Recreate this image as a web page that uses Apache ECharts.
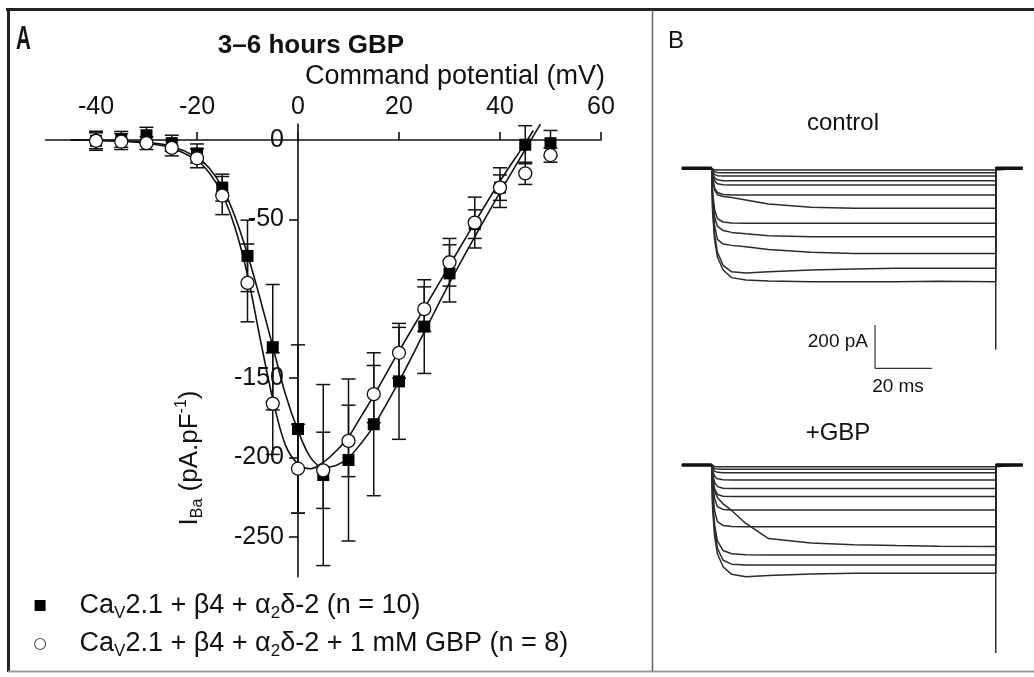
<!DOCTYPE html>
<html>
<head>
<meta charset="utf-8">
<script src="https://cdn.jsdelivr.net/npm/echarts@6/dist/echarts.min.js"></script>
<style>
html,body{margin:0;padding:0;background:#fff;}
#chart{width:1034px;height:677px;}
</style>
</head>
<body>
<div id="chart"></div>
<script>
// ---------- Panel A data (I–V relationship) ----------
const voltages = [-40,-35,-30,-25,-20,-15,-10,-5,0,5,10,15,20,25,30,35,40,45,50];
const ctrlMean = [-0.5,0.4,3,-2,-8.5,-30,-73,-130.5,-182,-211,-201.5,-179,-152,-117.5,-84,-53,-30,-3,-2];
const ctrlSem  = [5,5,5,5,6,8.5,22.5,39.5,53,57,51,45,36.5,29.5,18,9,8,12,8];
const gbpMean  = [-0.5,-1,-2,-5,-11.5,-35,-90,-166,-207,-208,-189.5,-160,-134,-106.5,-77,-52,-30,-21,-9.5];
const gbpSem   = [6,5,4,5,6,12,24.5,32,28,24,22.5,18,16,14,15,16,12.5,7,4.5];

// fitted curves
const ctrlFitV = [-45,-40,-35,-30,-25,-20,-17.5,-15,-12.5,-10,-7.5,-5,-2.5,0,2.5,5,7.5,10,12.5,15,20,25,30,35,40,45,48];
const ctrlFit  = [0,-0.2,-0.6,-1.5,-4,-11,-18,-30,-48,-72,-100,-130,-160,-183,-200,-206,-205,-200,-191,-180,-152,-121,-90,-61,-33,-6,10];
const gbpFitV  = [-45,-40,-35,-30,-25,-20,-17.5,-15,-12.5,-10,-7.5,-5,-2.5,0,2.5,5,7.5,10,12.5,15,20,25,30,35,40,45,46.6];
const gbpFit   = [0,-0.2,-0.7,-2,-5,-13,-21,-34,-55,-85,-125,-163,-192,-204,-207,-203,-196,-187,-174,-161,-133,-106,-79,-52,-26,-2,6];

const xTickValues = [-40,-20,0,20,40,60];
const yLabelValues = [0,-50,-150,-200,-250];
const yTickValues = [-50,-150,-200,-250];

const nameCtrl = 'CaV2.1 + β4 + α2δ-2 (n = 10)';
const nameGbp  = 'CaV2.1 + β4 + α2δ-2 + 1 mM GBP (n = 8)';

// ---------- Panel B data (current traces, ms / pA) ----------
const traceT = [-10.5,0,0.3,1,2,4,7,12,20,35,50,65,80,100,100,109.5];
const ctrlTraces = [
  [0,0,-4,-7,-8,-8,-8,-8,-8,-8,-8,-8,-8,-8,0,0],
  [0,0,-8,-16,-19,-20,-20,-20,-20,-20,-20,-20,-20,-20,0,0],
  [0,0,-14,-28,-34,-36,-36,-36,-36,-36,-36,-36,-36,-36,0,0],
  [0,0,-22,-44,-53,-57,-57,-57,-57,-57,-57,-57,-57,-57,0,0],
  [0,0,-30,-58,-71,-76,-77,-77,-77,-77,-77,-77,-77,-77,0,0],
  [0,0,-45,-90,-112,-121,-123,-123,-123,-123,-123,-123,-123,-123,0,0],
  [0,0,-50,-100,-122,-130,-135,-146,-165,-180,-184,-185,-185,-185,0,0],
  [0,0,-110,-190,-232,-248,-253,-254,-254,-254,-254,-254,-254,-254,0,0],
  [0,0,-130,-225,-268,-287,-296,-302,-311,-316,-316,-316,-316,-316,0,0],
  [0,0,-150,-265,-328,-350,-356,-362,-375,-388,-393,-393,-393,-393,0,0],
  [0,0,-185,-305,-388,-448,-478,-484,-478,-470,-465,-462,-462,-462,0,0],
  [0,0,-200,-330,-410,-470,-505,-516,-520,-524,-524,-524,-522,-524,0,0]
];
const gbpTraces = [
  [0,0,-4,-7,-8,-8,-8,-8,-8,-8,-8,-8,-8,-8,0,0],
  [0,0,-8,-16,-19,-20,-20,-20,-20,-20,-20,-20,-20,-20,0,0],
  [0,0,-14,-28,-34,-36,-36,-36,-36,-36,-36,-36,-36,-36,0,0],
  [0,0,-25,-52,-64,-68,-69,-69,-69,-69,-69,-69,-69,-69,0,0],
  [0,0,-40,-80,-100,-107,-108,-108,-108,-108,-108,-108,-108,-108,0,0],
  [0,0,-55,-110,-136,-144,-146,-146,-146,-146,-146,-146,-146,-146,0,0],
  [0,0,-80,-155,-193,-205,-208,-208,-208,-208,-208,-208,-208,-208,0,0],
  [0,0,-110,-210,-262,-280,-284,-285,-285,-285,-285,-285,-285,-285,0,0],
  [0,0,-60,-120,-150,-180,-210,-270,-340,-360,-368,-372,-375,-377,0,0],
  [0,0,-160,-275,-350,-395,-410,-414,-416,-416,-416,-416,-416,-416,0,0],
  [0,0,-180,-300,-385,-440,-458,-462,-462,-462,-462,-462,-462,-462,0,0],
  [0,0,-200,-330,-410,-470,-505,-516,-510,-504,-500,-500,-500,-500,0,0]
];
const ctrlTailPeak = -838;
const gbpTailPeak = -868;
const baseT = [-10.5,0,null,100,109.5];
const scaleBarT = [57.5,57.5,77.5];
const scaleBarI = [-724,-924,-924];

// ---------- option ----------
const FONT = '"Liberation Sans", Arial, sans-serif';
const ink = '#111';

function errSeries(name, means, sems, z) {
  return {
    name: name + ' err', type: 'custom', xAxisIndex: 0, yAxisIndex: 0, z: z, silent: true,
    data: voltages.map((v, i) => [v, means[i], sems[i]]),
    encode: {x: 0, y: 1},
    renderItem: function (params, api) {
      const x = api.value(0), m = api.value(1), s = api.value(2);
      const pt = api.coord([x, m + s]);
      const pb = api.coord([x, m - s]);
      const hw = 7;
      const st = {stroke: ink, lineWidth: 1.5};
      return {type: 'group', children: [
        {type: 'line', shape: {x1: pt[0], y1: pt[1], x2: pb[0], y2: pb[1]}, style: st},
        {type: 'line', shape: {x1: pt[0] - hw, y1: pt[1], x2: pt[0] + hw, y2: pt[1]}, style: st},
        {type: 'line', shape: {x1: pb[0] - hw, y1: pb[1], x2: pb[0] + hw, y2: pb[1]}, style: st}
      ]};
    }
  };
}

function traceSeries(arr, axisIdx) {
  return arr.map(tr => ({
    type: 'line', xAxisIndex: axisIdx, yAxisIndex: axisIdx, silent: true,
    showSymbol: false, symbol: 'none',
    data: traceT.map((t, j) => [t, tr[j]]),
    lineStyle: {color: '#2b2b2b', width: 1.5}, z: 2
  }));
}

const series = [
  {type: 'line', name: 'ctrl fit', xAxisIndex: 0, yAxisIndex: 0, smooth: 0.35, showSymbol: false, symbol: 'none', silent: true,
   data: ctrlFitV.map((v, i) => [v, ctrlFit[i]]), lineStyle: {color: ink, width: 1.6}, z: 2},
  {type: 'line', name: 'gbp fit', xAxisIndex: 0, yAxisIndex: 0, smooth: 0.35, showSymbol: false, symbol: 'none', silent: true,
   data: gbpFitV.map((v, i) => [v, gbpFit[i]]), lineStyle: {color: ink, width: 1.6}, z: 2},
  errSeries('ctrl', ctrlMean, ctrlSem, 3),
  errSeries('gbp', gbpMean, gbpSem, 3),
  {type: 'scatter', name: nameCtrl, xAxisIndex: 0, yAxisIndex: 0, symbol: 'rect', symbolSize: 12,
   data: voltages.map((v, i) => [v, ctrlMean[i]]), itemStyle: {color: '#000', opacity: 1}, z: 4},
  {type: 'scatter', name: nameGbp, xAxisIndex: 0, yAxisIndex: 0, symbol: 'circle', symbolSize: 13,
   data: voltages.map((v, i) => [v, gbpMean[i]]), itemStyle: {color: '#fff', borderColor: ink, borderWidth: 1.3, opacity: 1}, z: 5}
].concat(traceSeries(ctrlTraces, 1), traceSeries(gbpTraces, 2), [
  {type: 'line', xAxisIndex: 1, yAxisIndex: 1, silent: true, showSymbol: false, symbol: 'none', connectNulls: false,
   data: baseT.map(t => t === null ? [null, null] : [t, 0]), lineStyle: {color: '#111', width: 3.5}, z: 3},
  {type: 'line', xAxisIndex: 2, yAxisIndex: 2, silent: true, showSymbol: false, symbol: 'none', connectNulls: false,
   data: baseT.map(t => t === null ? [null, null] : [t, 0]), lineStyle: {color: '#111', width: 3.5}, z: 3},
  {type: 'line', xAxisIndex: 1, yAxisIndex: 1, silent: true, showSymbol: false, symbol: 'none',
   data: [[100, 0], [100, ctrlTailPeak]], lineStyle: {color: '#222', width: 1.4}, z: 3},
  {type: 'line', xAxisIndex: 2, yAxisIndex: 2, silent: true, showSymbol: false, symbol: 'none',
   data: [[100, 0], [100, gbpTailPeak]], lineStyle: {color: '#222', width: 1.4}, z: 3},
  {type: 'line', xAxisIndex: 1, yAxisIndex: 1, silent: true, showSymbol: false, symbol: 'none',
   data: scaleBarT.map((t, i) => [t, scaleBarI[i]]), lineStyle: {color: '#333', width: 1.2}, z: 3}
]);

const legendRich = {
  gap: {width: 29, fontSize: 27, lineHeight: 32},
  m: {fontSize: 27, fontFamily: FONT, color: ink, lineHeight: 32},
  s: {fontSize: 17, fontFamily: FONT, color: ink, lineHeight: 17, verticalAlign: 'bottom'}
};

const gridL = 45.5, gridT = 124.1, gridW = 555.5, gridH = 452.6;
const option = {
  backgroundColor: '#fff',
  animation: false,
  grid: [
    {left: gridL, top: gridT, width: gridW, height: gridH, containLabel: false, outerBoundsMode: 'none'},
    {left: 680.5, top: 146.65, width: 343.64, height: 238.15, containLabel: false, outerBoundsMode: 'none'},
    {left: 680.5, top: 443.35, width: 343.64, height: 238.15, containLabel: false, outerBoundsMode: 'none'}
  ],
  xAxis: [
    {type: 'value', gridIndex: 0, min: -50, max: 60, position: 'top', offset: -(140 - gridT),
     axisLine: {onZero: false, lineStyle: {color: ink, width: 1.6}},
     axisTick: {customValues: xTickValues, length: 8, lineStyle: {color: ink, width: 1.6}},
     axisLabel: {customValues: xTickValues, margin: 20, fontSize: 25, color: ink, fontFamily: FONT},
     splitLine: {show: false}},
    {type: 'value', gridIndex: 1, min: -11, max: 110, show: false},
    {type: 'value', gridIndex: 2, min: -11, max: 110, show: false}
  ],
  yAxis: [
    {type: 'value', gridIndex: 0, min: -275, max: 10, position: 'left', offset: -(298 - gridL),
     axisLine: {onZero: false, lineStyle: {color: ink, width: 1.6}},
     axisTick: {customValues: yTickValues, length: 9, lineStyle: {color: ink, width: 1.6}},
     axisLabel: {customValues: yLabelValues, margin: 14, fontSize: 25, color: ink, fontFamily: FONT},
     splitLine: {show: false}},
    {type: 'value', gridIndex: 1, min: -1000, max: 100, show: false},
    {type: 'value', gridIndex: 2, min: -1000, max: 100, show: false}
  ],
  legend: {
    orient: 'vertical', left: 34, top: 592, itemGap: 9, itemWidth: 11, itemHeight: 11, padding: 0,
    selectedMode: false,
    data: [
      {name: nameCtrl, icon: 'rect', itemStyle: {color: '#000', borderWidth: 0, opacity: 1}},
      {name: nameGbp, icon: 'circle', itemStyle: {color: '#fff', borderColor: '#555', borderWidth: 1.2, opacity: 1}}
    ],
    formatter: function (name) {
      if (name === nameCtrl) return '{gap| }{m|Ca}{s|V}{m|2.1 + β4 + α}{s|2}{m|δ-2 (n = 10)}';
      return '{gap| }{m|Ca}{s|V}{m|2.1 + β4 + α}{s|2}{m|δ-2 + 1 mM GBP (n = 8)}';
    },
    textStyle: {rich: legendRich, fontSize: 27, fontFamily: FONT, color: ink}
  },
  graphic: [
    {type: 'line', shape: {x1: 6, y1: 9.5, x2: 1034, y2: 9.5}, style: {stroke: '#222', lineWidth: 3}},
    {type: 'line', shape: {x1: 8.5, y1: 8, x2: 8.5, y2: 672}, style: {stroke: '#222', lineWidth: 3}},
    {type: 'line', shape: {x1: 8, y1: 671.5, x2: 1034, y2: 671.5}, style: {stroke: '#999', lineWidth: 2}},
    {type: 'line', shape: {x1: 652.5, y1: 10, x2: 652.5, y2: 671}, style: {stroke: '#666', lineWidth: 1.5}},
    {type: 'text', x: 16, y: 40, scaleX: 0.62, style: {text: 'A', font: 'bold 33px ' + FONT, fill: ink, align: 'left', verticalAlign: 'middle'}},
    {type: 'text', x: 311, y: 46, style: {text: '3–6 hours GBP', font: 'bold 26px ' + FONT, fill: ink, align: 'center', verticalAlign: 'middle'}},
    {type: 'text', x: 605, y: 77, style: {text: 'Command potential (mV)', font: '27px ' + FONT, fill: ink, align: 'right', verticalAlign: 'middle'}},
    {type: 'text', x: 190, y: 458, rotation: Math.PI / 2,
     style: {text: '{m|I}{s|Ba}{m| (pA.pF}{p|-1}{m|)}', align: 'center', verticalAlign: 'middle',
       rich: {
         m: {fontSize: 26, fontFamily: FONT, fill: ink, color: ink, lineHeight: 32},
         s: {fontSize: 16, fontFamily: FONT, fill: ink, color: ink, lineHeight: 16, verticalAlign: 'bottom'},
         p: {fontSize: 16, fontFamily: FONT, fill: ink, color: ink, lineHeight: 16, verticalAlign: 'top'}
       }}},
    {type: 'text', x: 668, y: 41, style: {text: 'B', font: '24px ' + FONT, fill: ink, align: 'left', verticalAlign: 'middle'}},
    {type: 'text', x: 843, y: 123, style: {text: 'control', font: '24px ' + FONT, fill: ink, align: 'center', verticalAlign: 'middle'}},
    {type: 'text', x: 838, y: 433, style: {text: '+GBP', font: '24px ' + FONT, fill: ink, align: 'center', verticalAlign: 'middle'}},
    {type: 'text', x: 868, y: 342, style: {text: '200 pA', font: '19px ' + FONT, fill: ink, align: 'right', verticalAlign: 'middle'}},
    {type: 'text', x: 898, y: 387, style: {text: '20 ms', font: '19px ' + FONT, fill: ink, align: 'center', verticalAlign: 'middle'}}
  ],
  series: series
};

const chart = echarts.init(document.getElementById('chart'), null, {renderer: 'canvas'});
chart.setOption(option);
</script>
</body>
</html>
